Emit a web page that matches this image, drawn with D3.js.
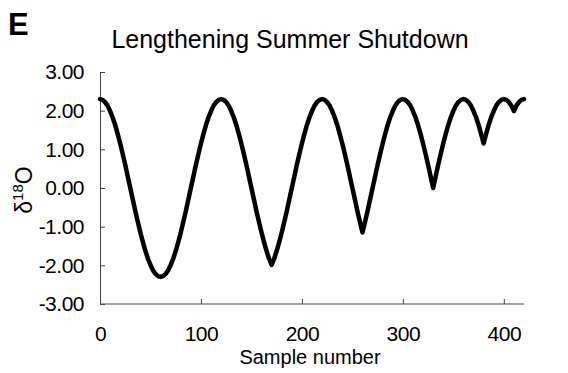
<!DOCTYPE html>
<html><head><meta charset="utf-8">
<script src="https://cdn.jsdelivr.net/npm/d3@7"></script>
<style>body{margin:0;background:#fff} svg{display:block}</style>
</head><body>
<svg id="c" width="568" height="373"></svg>
<script>
const panelLabel = "E";
const title = "Lengthening Summer Shutdown";
const xLabel = "Sample number";
const xTicks = [0, 100, 200, 300, 400];
const yTicks = [3, 2, 1, 0, -1, -2, -3];
const sampleStep = 2.5;
const d18O = [
  2.30,2.28,2.22,2.13,1.99,1.83,1.63,1.40,1.15,0.88,0.60,0.30,0.00,-0.30,-0.60,-0.88,-1.15,-1.40,-1.63,-1.83,-1.99,-2.13,-2.22,-2.28,-2.30,
  -2.28,-2.22,-2.13,-1.99,-1.83,-1.63,-1.40,-1.15,-0.88,-0.60,-0.30,0.00,0.30,0.60,0.88,1.15,1.40,1.63,1.83,1.99,2.13,2.22,2.28,2.30,
  2.28,2.22,2.13,1.99,1.83,1.63,1.40,1.15,0.88,0.60,0.30,0.00,-0.30,-0.60,-0.88,-1.15,-1.40,-1.63,-1.83,-1.99,
  -1.83,-1.63,-1.40,-1.15,-0.88,-0.60,-0.30,0.00,0.30,0.60,0.88,1.15,1.40,1.63,1.83,1.99,2.13,2.22,2.28,2.30,
  2.28,2.22,2.13,1.99,1.83,1.63,1.40,1.15,0.88,0.60,0.30,0.00,-0.30,-0.60,-0.88,-1.15,
  -0.88,-0.60,-0.30,0.00,0.30,0.60,0.88,1.15,1.40,1.63,1.83,1.99,2.13,2.22,2.28,2.30,
  2.28,2.22,2.13,1.99,1.83,1.63,1.40,1.15,0.88,0.60,0.30,0.00,
  0.30,0.60,0.88,1.15,1.40,1.63,1.83,1.99,2.13,2.22,2.28,2.30,
  2.28,2.22,2.13,1.99,1.83,1.63,1.40,1.15,
  1.40,1.63,1.83,1.99,2.13,2.22,2.28,2.30,
  2.28,2.22,2.13,1.99,
  2.13,2.22,2.28,2.30
];

const font = "'Liberation Sans', Arial, Helvetica, sans-serif";
const svg = d3.select("#c");
const x = d3.scaleLinear().domain([0, 420]).range([100, 524]);
const y = d3.scaleLinear().domain([-3, 3]).range([304, 72]);
const axisColor = "#444";
const fmt = d => d3.format(".2f")(d).replace("\u2212", "-");

// panel label & title
svg.append("text").attr("x", 8).attr("y", 35).attr("font-family", font)
  .attr("font-weight", "bold").attr("font-size", 31).text(panelLabel);
svg.append("text").attr("x", 290).attr("y", 48).attr("text-anchor", "middle")
  .attr("font-family", font).attr("font-size", 25).text(title);

// y axis
const gy = svg.append("g").attr("transform", "translate(100,0)")
  .call(d3.axisLeft(y).tickValues(yTicks).tickSizeInner(-5).tickSizeOuter(0)
    .tickPadding(16).tickFormat(fmt));
gy.select(".domain").attr("stroke", axisColor);
gy.selectAll(".tick line").attr("stroke", axisColor);
gy.selectAll(".tick text").attr("font-family", font).attr("font-size", 21)
  .attr("fill", "#000").attr("letter-spacing", -0.5);

// x axis
const gx = svg.append("g").attr("transform", "translate(0,304)")
  .call(d3.axisBottom(x).tickValues(xTicks).tickSizeInner(-5).tickSizeOuter(0)
    .tickPadding(22));
gx.select(".domain").attr("stroke", axisColor).attr("d", "M100,0H524");
gx.selectAll(".tick line").attr("stroke", axisColor);
gx.selectAll(".tick text").attr("font-family", font).attr("font-size", 21)
  .attr("fill", "#000").attr("letter-spacing", -0.5);

svg.append("text").attr("x", 310).attr("y", 364).attr("text-anchor", "middle")
  .attr("font-family", font).attr("font-size", 20).text(xLabel);

// y label δ18O
const yl = svg.append("text").attr("transform", "translate(32,190) rotate(-90)")
  .attr("text-anchor", "middle").attr("font-family", font).attr("font-size", 23);
yl.append("tspan").text("δ");
yl.append("tspan").attr("font-size", 15).attr("dy", -9).text("18");
yl.append("tspan").attr("dy", 9).text("O");

// line
const pts = d18O.map((v, i) => ({s: i * sampleStep, v}));
svg.append("path").datum(pts)
  .attr("fill", "none").attr("stroke", "#000").attr("stroke-width", 4.5)
  .attr("stroke-linejoin", "round").attr("stroke-linecap", "round")
  .attr("d", d3.line().x(d => x(d.s)).y(d => y(d.v)).curve(d3.curveLinear));
</script>
</body></html>
